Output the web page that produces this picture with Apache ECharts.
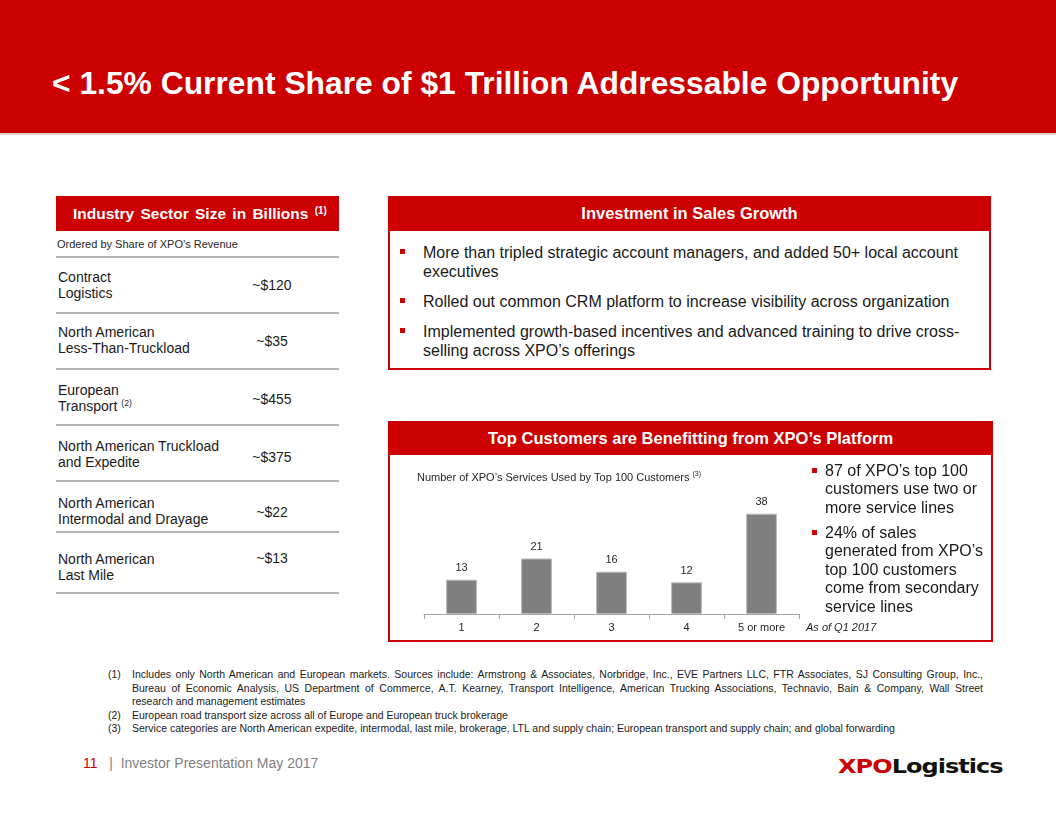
<!DOCTYPE html>
<html>
<head>
<meta charset="utf-8">
<script src="https://cdn.jsdelivr.net/npm/echarts@6/dist/echarts.min.js"></script>
<style>
  html, body { margin:0; padding:0; }
  body { width:1056px; height:816px; position:relative; overflow:hidden; background:#fff;
         font-family:"Liberation Sans", Arial, sans-serif; color:#1a1a1a; }
  .abs { position:absolute; }
  .band { left:0; top:0; width:1056px; height:133px; background:#CC0000; }
  .bandshadow { left:0; top:133px; width:1056px; height:2px; background:#D6D6D6; }
  .title { left:52px; top:66px; line-height:34px; font-size:31.8px; font-weight:bold; color:#fff; white-space:nowrap; }
  .redhead { background:#CC0000; color:#fff; font-weight:bold; font-size:16.5px; white-space:nowrap; }
  .box { border:2px solid #CC0000; box-sizing:border-box; }
  .hline { height:2px; background:#B4B4B4; left:56px; width:283px; }
  .lbl { left:58px; font-size:14px; line-height:16px; white-space:nowrap; color:#1a1a1a; }
  .val { left:232px; width:80px; text-align:center; font-size:14px; line-height:16px; white-space:nowrap; color:#1a1a1a; }
  sup { font-size:0.62em; vertical-align:0.6em; line-height:0; }
  .bul { font-size:16px; line-height:19px; white-space:nowrap; color:#1a1a1a; }
  .sq { width:5px; height:5px; background:#CC0000; }
  .fn { font-size:10.5px; line-height:13.5px; color:#1a1a1a; white-space:nowrap; }
  .fnj { text-align:justify; text-align-last:justify; white-space:normal; height:13.5px; overflow:visible; }
</style>
</head>
<body>
<div class="abs band"></div>
<div class="abs bandshadow"></div>
<div class="abs title">&lt; 1.5% Current Share of $1 Trillion Addressable Opportunity</div>

<!-- Left panel -->
<div class="abs redhead" style="left:56px;top:196px;width:283px;height:35px;line-height:35px;padding-left:17px;box-sizing:border-box;word-spacing:2px;font-size:15.5px;">Industry Sector Size in Billions <sup style="font-size:10px;vertical-align:5px;">(1)</sup></div>
<div class="abs" style="left:57px;top:237px;font-size:11px;line-height:15px;color:#262626;white-space:nowrap;">Ordered by Share of XPO’s Revenue</div>
<div id="table"></div>

<!-- Investment box -->
<div class="abs box" style="left:388px;top:196px;width:603px;height:174px;"></div>
<div class="abs redhead" style="left:388px;top:196px;width:603px;height:35px;line-height:35px;text-align:center;">Investment in Sales Growth</div>
<div id="invest"></div>

<!-- Top customers box -->
<div class="abs box" style="left:388px;top:421px;width:605px;height:221px;"></div>
<div class="abs redhead" style="left:388px;top:421px;width:605px;height:34px;line-height:34px;text-align:center;">Top Customers are Benefitting from XPO’s Platform</div>
<div id="chart" class="abs" style="left:395px;top:458px;width:420px;height:182px;"></div>
<div id="custbul"></div>
<div class="abs" style="left:806px;top:619px;font-size:11px;line-height:16px;font-style:italic;color:#262626;white-space:nowrap;">As of Q1 2017</div>

<!-- Footnotes -->
<div id="notes"></div>

<!-- Footer -->
<div class="abs" style="left:83px;top:754px;font-size:14px;line-height:18px;white-space:nowrap;color:#808080;"><span style="color:#CC0000;">11</span>&nbsp;&nbsp;&nbsp;|&nbsp;&nbsp;Investor Presentation May 2017</div>
<div class="abs" style="left:838px;top:754px;font-family:'DejaVu Sans',sans-serif;font-weight:bold;font-size:20px;line-height:24px;white-space:nowrap;letter-spacing:-0.8px;transform:scaleX(1.2);transform-origin:0 50%;"><span style="color:#CC0000;">XPO</span><span style="color:#111;">Logistics</span></div>

<script>
// ---------------- data ----------------
const serviceCategories = ['1', '2', '3', '4', '5 or more'];
const customerCounts = [13, 21, 16, 12, 38];

const sectorNames = [
  ['Contract', 'Logistics'],
  ['North American', 'Less-Than-Truckload'],
  ['European', 'Transport <sup>(2)</sup>'],
  ['North American Truckload', 'and Expedite'],
  ['North American', 'Intermodal and Drayage'],
  ['North American', 'Last Mile']
];
const sectorSizes = ['~$120', '~$35', '~$455', '~$375', '~$22', '~$13'];

const investBullets = [
  ['More than tripled strategic account managers, and added 50+ local account', 'executives'],
  ['Rolled out common CRM platform to increase visibility across organization'],
  ['Implemented growth-based incentives and advanced training to drive cross-', 'selling across XPO’s offerings']
];
const customerBullets = [
  ['87 of XPO’s top 100', 'customers use two or', 'more service lines'],
  ['24% of sales', 'generated from XPO’s', 'top 100 customers', 'come from secondary', 'service lines']
];
const footnotes = [
  ['(1)', [
    'Includes only North American and European markets. Sources include: Armstrong &amp; Associates, Norbridge, Inc., EVE Partners LLC, FTR Associates, SJ Consulting Group, Inc.,',
    'Bureau of Economic Analysis, US Department of Commerce, A.T. Kearney, Transport Intelligence, American Trucking Associations, Technavio, Bain &amp; Company, Wall Street',
    'research and management estimates']],
  ['(2)', ['European road transport size across all of Europe and European truck brokerage']],
  ['(3)', ['Service categories are North American expedite, intermodal, last mile, brokerage, LTL and supply chain; European transport and supply chain; and global forwarding']]
];

// ---------------- layout ----------------
const rowLines = [256, 312, 368, 424, 480, 531, 592];
const labelTops = [269, 324, 382, 438, 495, 551];
const valueCenters = [285, 341, 399, 457, 512, 558];

let html = '';
rowLines.forEach(y => { html += `<div class="abs hline" style="top:${y}px"></div>`; });
sectorNames.forEach((n, i) => {
  html += `<div class="abs lbl" style="top:${labelTops[i]}px">${n[0]}<br>${n[1]}</div>`;
  html += `<div class="abs val" style="top:${valueCenters[i] - 8}px">${sectorSizes[i]}</div>`;
});
document.getElementById('table').innerHTML = html;

function bullets(list, left, top, lh, gap, sqLeft, fs) {
  let out = '', y = top;
  list.forEach(lines => {
    out += `<div class="abs sq" style="left:${sqLeft}px;top:${y + lh / 2 - 3}px"></div>`;
    out += `<div class="abs bul" style="left:${left}px;top:${y}px;line-height:${lh}px;font-size:${fs}px">${lines.join('<br>')}</div>`;
    y += lines.length * lh + gap;
  });
  return out;
}
document.getElementById('invest').innerHTML = bullets(investBullets, 423, 242.5, 19, 11, 400, 16);
document.getElementById('custbul').innerHTML = bullets(customerBullets, 825, 461.5, 18.5, 6.5, 812, 16);

let nh = '', ny = 668;
footnotes.forEach(f => {
  nh += `<div class="abs fn" style="left:108px;top:${ny}px">${f[0]}</div>`;
  f[1].forEach((line, j) => {
    const full = (j < f[1].length - 1);
    nh += `<div class="abs fn${full ? ' fnj' : ''}" style="left:132px;top:${ny}px;${full ? 'width:851px;' : ''}">${line}</div>`;
    ny += 13.5;
  });
});
document.getElementById('notes').innerHTML = nh;

// ---------------- chart ----------------
const chart = echarts.init(document.getElementById('chart'));
chart.setOption({
  animation: false,
  title: {
    text: '{a|Number of XPO’s Services Used by Top 100 Customers }{s|(3)}',
    left: 17, top: 8,
    textStyle: {
      fontWeight: 'normal',
      rich: {
        a: { fontSize: 11, color: '#262626', fontFamily: 'Liberation Sans', fontWeight: 'normal' },
        s: { fontSize: 7, color: '#262626', fontFamily: 'Liberation Sans', fontWeight: 'normal', padding: [0, 0, 6, 0] }
      }
    }
  },
  grid: { left: 29, right: 16, top: 24, bottom: 26 },
  xAxis: {
    type: 'category',
    data: serviceCategories,
    axisLine: { lineStyle: { color: '#A6A6A6', width: 1 } },
    axisTick: { show: true, length: 5, lineStyle: { color: '#A6A6A6' } },
    axisLabel: { color: '#262626', fontSize: 11, fontFamily: 'Liberation Sans', margin: 8 }
  },
  yAxis: { type: 'value', min: 0, max: 50, show: false, splitLine: { show: false } },
  series: [{
    type: 'bar',
    data: customerCounts,
    barWidth: '41%',
    itemStyle: { color: '#7F7F7F', borderColor: '#B8B8B8', borderWidth: 1 },
    label: { show: true, position: 'top', distance: 6, color: '#262626', fontSize: 11, fontFamily: 'Liberation Sans' }
  }]
});
</script>
</body>
</html>
